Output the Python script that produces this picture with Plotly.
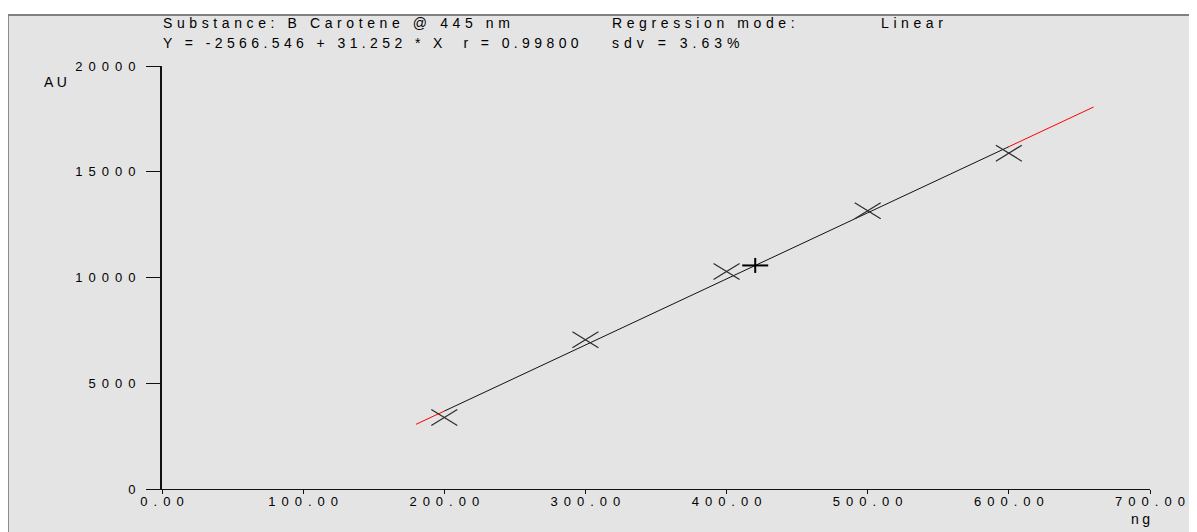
import plotly.graph_objects as go

# ---- data ----
std_x = [200, 300, 400, 500, 600]          # ng
std_y = [3377, 7060, 10286, 13152, 15877]  # AU
sample_x = [420.3]
sample_y = [10570]
intercept = -2566.546
slope = 31.252
fit_x = [200, 600]
ext_low_x = [180, 200]
ext_high_x = [600, 660]

x_tickvals = [0, 100, 200, 300, 400, 500, 600, 700]
x_ticktext = ["0.00", "100.00", "200.00", "300.00", "400.00", "500.00", "600.00", "700.00"]
y_tickvals = [0, 5000, 10000, 15000, 20000]
y_ticktext = ["0", "5000", "10000", "15000", "20000"]

title_text = "Substance: B Carotene @ 445 nm"
mode_label = "Regression mode:"
mode_value = "Linear"
eq_text = "Y = -2566.546 + 31.252 * X&nbsp;&nbsp;r = 0.99800"
sdv_text = "sdv = 3.63%"
y_unit = "AU"
x_unit = "ng"

# ---- layout geometry ----
OFF = 8  # page body margin
W, H = 1197, 532
ML, MR, MT, MB = 154, 55, 58, 51
PW, PH = W - ML - MR, H - MT - MB
X_RANGE = [0, 700]
Y_RANGE = [0, 20000]
BG = "#e4e4e4"
FONT = "Liberation Sans, Arial, sans-serif"

# data units per screen pixel (used to size the flattened marker glyphs)
UX = (X_RANGE[1] - X_RANGE[0]) / PW
UY = (Y_RANGE[1] - Y_RANGE[0]) / PH


def xp(px):
    """page pixel x -> paper fraction"""
    return (px - OFF - ML) / PW


def yp(py):
    """page pixel y -> paper fraction"""
    return (H - MB - (py - OFF)) / PH


def spaced(s, ls):
    return '<span style="letter-spacing:%spx">%s</span>' % (ls, s)


def spaced_tick(s, ls):
    if len(s) == 1:
        return s
    return '<span style="letter-spacing:%spx">%s</span>%s' % (ls, s[:-1], s[-1])


def line_y(xs):
    return [intercept + slope * x for x in xs]


def x_glyph(xs, ys, hw, hh):
    """wide 'x' glyph around each point: hw/hh half-sizes in pixels"""
    gx, gy = [], []
    for x, y in zip(xs, ys):
        dx, dy = hw * UX, hh * UY
        gx += [x - dx, x + dx, None, x - dx, x + dx, None]
        gy += [y + dy, y - dy, None, y - dy, y + dy, None]
    return gx, gy


def plus_glyph(xs, ys, hw, hh):
    gx, gy = [], []
    for x, y in zip(xs, ys):
        dx, dy = hw * UX, hh * UY
        gx += [x - dx, x + dx, None, x, x, None]
        gy += [y, y, None, y - dy, y + dy, None]
    return gx, gy


fig = go.Figure()

# regression line extensions (red) and fitted range (black)
fig.add_trace(go.Scatter(x=ext_low_x, y=line_y(ext_low_x), mode="lines",
                         line=dict(color="#ff0000", width=1), hoverinfo="skip"))
fig.add_trace(go.Scatter(x=ext_high_x, y=line_y(ext_high_x), mode="lines",
                         line=dict(color="#ff0000", width=1), hoverinfo="skip"))
fig.add_trace(go.Scatter(x=fit_x, y=line_y(fit_x), mode="lines",
                         line=dict(color="#111111", width=1), hoverinfo="skip"))

# standards (flattened X glyphs)
gx, gy = x_glyph(std_x, std_y, 13, 8)
fig.add_trace(go.Scatter(x=gx, y=gy, mode="lines", connectgaps=False,
                         line=dict(color="#2a2a2a", width=1.2), hoverinfo="skip"))
# sample (flattened + glyph)
px_, py_ = plus_glyph(sample_x, sample_y, 13, 7.5)
fig.add_trace(go.Scatter(x=px_, y=py_, mode="lines", connectgaps=False,
                         line=dict(color="#000000", width=2), hoverinfo="skip"))

ann_font = dict(family=FONT, size=14, color="#000000")
LS = 4.6
annotations = [
    dict(text=spaced(title_text, LS), x=xp(161), y=yp(23.3), xanchor="left", yanchor="middle"),
    dict(text=spaced(mode_label, LS), x=xp(609.5), y=yp(23.3), xanchor="left", yanchor="middle"),
    dict(text=spaced(mode_value, LS), x=xp(879), y=yp(23.3), xanchor="left", yanchor="middle"),
    dict(text=spaced(eq_text, 4.4), x=xp(161), y=yp(43), xanchor="left", yanchor="middle"),
    dict(text=spaced(sdv_text, 5), x=xp(609.5), y=yp(43), xanchor="left", yanchor="middle"),
    dict(text=spaced(y_unit, 3.5), x=xp(42), y=yp(82), xanchor="left", yanchor="middle"),
    dict(text=spaced_tick(x_unit, 3.5), x=xp(1140), y=yp(519), xanchor="center", yanchor="middle"),
]
for a in annotations:
    a.update(xref="paper", yref="paper", showarrow=False, font=ann_font)

shapes = [
    dict(type="rect", xref="paper", yref="paper", x0=xp(-20), x1=xp(W + 20),
         y0=yp(14), y1=yp(-20), fillcolor="#ffffff", line=dict(width=0), layer="below"),
    dict(type="line", xref="paper", yref="paper", x0=xp(8), x1=xp(W + 20),
         y0=yp(15), y1=yp(15), line=dict(color="#808080", width=2), layer="below"),
    dict(type="line", xref="paper", yref="paper", x0=xp(8.5), x1=xp(8.5),
         y0=yp(15), y1=yp(H + 20), line=dict(color="#8c8c8c", width=1), layer="below"),
]

tick_font = dict(family=FONT, size=13, color="#000000")
TLS = 6

fig.update_layout(
    width=W, height=H,
    margin=dict(l=ML, r=MR, t=MT, b=MB, pad=0),
    paper_bgcolor=BG, plot_bgcolor=BG,
    showlegend=False,
    annotations=annotations,
    shapes=shapes,
    xaxis=dict(range=X_RANGE, showgrid=False, zeroline=False,
               showline=True, linecolor="#111111", linewidth=1,
               ticks="outside", ticklen=4, tickwidth=1, tickcolor="#111111",
               tickvals=x_tickvals, ticktext=[spaced_tick(t, TLS) for t in x_ticktext],
               tickfont=tick_font, ticklabelstandoff=-4),
    yaxis=dict(range=Y_RANGE, showgrid=False, zeroline=False,
               showline=True, linecolor="#111111", linewidth=2,
               ticks="outside", ticklen=14, tickwidth=1, tickcolor="#111111",
               tickvals=y_tickvals, ticktext=[spaced_tick(t, TLS) for t in y_ticktext],
               tickfont=tick_font, ticklabelstandoff=8),
)

fig.write_html("out.html")
